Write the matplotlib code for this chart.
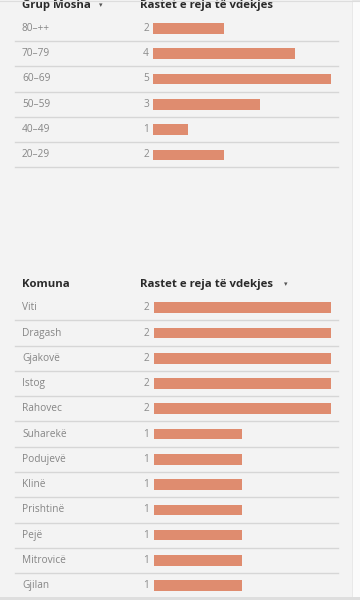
import numpy as np
import matplotlib.pyplot as plt
from matplotlib.transforms import blended_transform_factory
from matplotlib.patches import Rectangle

# data
age_groups = ['80–++', '70–79', '60–69', '50–59', '40–49', '20–29']
age_deaths = [2, 4, 5, 3, 1, 2]

municipalities = ['Viti', 'Dragash', 'Gjakovë', 'Istog', 'Rahovec', 'Suharekë',
                  'Podujevë', 'Klinë', 'Prishtinë', 'Pejë', 'Mitrovicë', 'Gjilan']
municipality_deaths = [2, 2, 2, 2, 2, 1, 1, 1, 1, 1, 1, 1]

plt.rcParams['font.family'] = ['Open Sans', 'DejaVu Sans']

bg = '#f3f3f3'
bar_color = '#df8c6f'
line_color = '#d6d6d6'
W, H = 360, 600

fig = plt.figure(figsize=(3.6, 6), dpi=100, facecolor=bg)

# white strip on the right and darker strip at the bottom (page edges)
fig.patches.append(Rectangle((352 / W, 0), 8 / W, 1, transform=fig.transFigure,
                             facecolor='#fbfbfb', edgecolor='#e6e6e6', lw=0.6, zorder=0))
fig.patches.append(Rectangle((0, 0), 1, 3 / H, transform=fig.transFigure,
                             facecolor='#dedede', edgecolor='none', zorder=0))
fig.lines.append(plt.Line2D([0, 1], [1 - 1 / H, 1 - 1 / H], transform=fig.transFigure,
                            color='#dddddd', lw=0.8))


def table(top_px, bottom_px, bar_left_px, bar_right_px, cats, vals, xmax,
          head_left, head_right, arrow_left, arrow_right):
    ax = fig.add_axes([bar_left_px / W, 1 - bottom_px / H,
                       (bar_right_px - bar_left_px) / W, (bottom_px - top_px) / H])
    ax.set_facecolor('none')
    y = np.arange(len(cats))
    ax.barh(y, vals, height=0.42, color=bar_color)
    ax.set_xlim(0, xmax)
    ax.set_ylim(len(cats) - 0.5, -0.5)
    ax.axis('off')

    tr = blended_transform_factory(fig.transFigure, ax.transData)
    for i, (c, v) in enumerate(zip(cats, vals)):
        ax.text(22 / W, i, c, transform=tr, ha='left', va='center',
                fontsize=7.3, color='#858585')
        ax.text(149 / W, i, str(v), transform=tr, ha='right', va='center',
                fontsize=7.3, color='#8a8a8a')
        ax.plot([15 / W, 338 / W], [i + 0.5, i + 0.5], transform=tr,
                color=line_color, lw=1.0, clip_on=False)

    hy = -0.92
    ax.text(22 / W, hy, head_left, transform=tr, ha='left', va='center',
            fontsize=8.2, fontweight='bold', color='#2a2a2a')
    ax.text(140 / W, hy, head_right, transform=tr, ha='left', va='center',
            fontsize=8.2, fontweight='bold', color='#2a2a2a')
    if arrow_left:
        ax.text(arrow_left / W, hy, '▾', transform=tr, ha='left', va='center',
                fontsize=5, color='#555555', family='DejaVu Sans')
    if arrow_right:
        ax.text(arrow_right / W, hy, '▾', transform=tr, ha='left', va='center',
                fontsize=5, color='#555555', family='DejaVu Sans')
    return ax


table(15.7, 167.5, 152.7, 330.7, age_groups, age_deaths, 5,
      'Grup Mosha', 'Rastet e reja të vdekjes', 99, None)
table(295.1, 598.3, 154, 330.7, municipalities, municipality_deaths, 2,
      'Komuna', 'Rastet e reja të vdekjes', None, 284)

fig.savefig('out.png', dpi=100, facecolor=bg)
